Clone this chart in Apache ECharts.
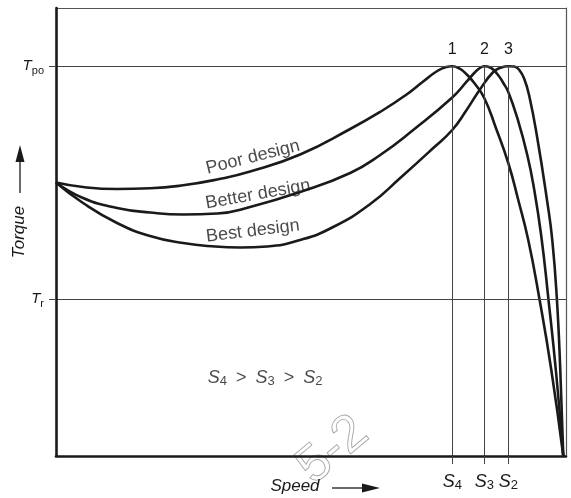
<!DOCTYPE html>
<html>
<head>
<meta charset="utf-8">
<script src="https://cdn.jsdelivr.net/npm/echarts@6/dist/echarts.min.js"></script>
<style>
  html, body { margin: 0; padding: 0; background: #fff; }
  #chart { width: 571px; height: 498px; }
</style>
</head>
<body>
<div id="chart"></div>
<script>
// Torque–speed characteristics for three motor designs (relative units, 0–100)
const poorDesign = [[0,61.05],[5.30,60.04],[11.97,59.60],[18.44,59.75],[24.92,60.42],[31.59,61.72],[38.06,63.50],[47.87,67.30],[57.68,72.99],[64.16,77.23],[68.47,80.47],[72.00,83.59],[74.75,85.94],[76.52,86.83],[77.7,87.0],[79.07,86.50],[80.44,85.27],[82.01,83.26],[83.97,79.91],[86.33,72.99],[88.68,65.40],[90.64,57.14],[92.60,48.21],[94.76,35.27],[97.12,19.20],[99.47,0]];
const betterDesign = [[0,61.05],[5.30,57.59],[11.97,55.36],[18.44,54.35],[24.92,53.91],[31.59,54.13],[38.06,55.58],[47.87,58.93],[57.68,63.17],[63.57,67.19],[70.04,72.77],[77.69,80.02],[80.64,83.71],[82.01,85.49],[82.99,86.50],[84.0,87.0],[85.15,86.72],[86.52,85.27],[87.70,83.26],[88.68,81.25],[90.45,75.45],[92.41,67.19],[93.78,59.38],[95.15,49.11],[96.53,35.27],[98.10,18.08],[99.47,0]];
const bestDesign = [[0,61.05],[5.30,56.47],[11.97,52.01],[18.44,49.11],[24.92,47.54],[31.19,46.76],[36.10,46.54],[41.40,46.76],[47.87,48.21],[54.35,51.12],[61.61,56.25],[67.49,62.05],[73.97,68.75],[77.69,72.77],[80.44,77.12],[83.19,81.92],[85.74,85.71],[87.31,86.72],[88.7,87.0],[89.86,86.94],[90.84,86.16],[91.82,84.15],[92.80,80.36],[94.37,70.98],[96.33,56.70],[97.31,48.21],[98.20,35.27],[98.88,19.20],[99.47,0]];

// Characteristic torque levels
const torqueLevels = [35, 87];              // T_r, T_po
const torqueSubscripts = ['r', 'po'];

// Speeds at which each design reaches pull-out torque
const speedMarks = [77.7, 84.0, 88.7];      // S4, S3, S2
const speedSubscripts = ['4', '3', '2'];
const peakNumbers = ['1', '2', '3'];

// Curve captions: [x, y, text, rotation]
const captions = [[38.6, 66.7, 'Poor design', 14], [39.6, 58.4, 'Better design', 10], [38.6, 50.2, 'Best design', 7]];
const noteAnchor = [41.0, 17.4];

const FONT = '"Liberation Sans", Arial, Helvetica, sans-serif';
const INK = '#1a1a1a';
const GUIDE = '#444';

const chart = echarts.init(document.getElementById('chart'));

const curve = (name, data) => ({
  name, type: 'line', data, smooth: 0.5, showSymbol: false, symbol: 'none', z: 4,
  lineStyle: { color: INK, width: 2.6 }, silent: true
});

const guideLines = [
  { yAxis: torqueLevels[0] },
  { yAxis: torqueLevels[1] }
].concat(speedMarks.map((s, i) => [
  { coord: [s, torqueLevels[1]], label: { show: true, position: 'start', formatter: peakNumbers[i], distance: 9,
      color: INK, fontSize: 16, fontFamily: FONT } },
  { coord: [s, 0] }
]));

// thin frame on the top and right edges of the plot
const frameAxis = pos => ({
  type: 'value', min: 0, max: 100, position: pos, show: true,
  axisLine: { show: true, onZero: false, lineStyle: { color: '#555', width: 1.2 } },
  axisTick: { show: false }, axisLabel: { show: false }, splitLine: { show: false }
});

chart.setOption({
  animation: false,
  textStyle: { fontFamily: FONT },
  grid: { left: 56, right: 5, top: 8, bottom: 42, outerBoundsMode: 'none', containLabel: false },
  xAxis: [{
    type: 'value', min: 0, max: 100, z: 6,
    splitLine: { show: false },
    axisLine: { show: true, lineStyle: { color: INK, width: 2.6 } },
    axisTick: { show: true, customValues: speedMarks, length: 8, lineStyle: { color: GUIDE, width: 1 } },
    axisLabel: {
      show: true, customValues: speedMarks, margin: 16,
      formatter: v => '{s|S}{sub|' + speedSubscripts[speedMarks.indexOf(v)] + '}',
      rich: {
        s: { fontSize: 18, fontStyle: 'italic', color: INK, fontFamily: FONT, lineHeight: 20 },
        sub: { fontSize: 13, color: INK, fontFamily: FONT, verticalAlign: 'bottom', lineHeight: 12 }
      }
    },
    name: 'Speed', nameLocation: 'middle', nameGap: 22, nameMoveOverlap: false,
    nameTextStyle: { fontSize: 17, fontStyle: 'italic', color: INK, fontFamily: FONT, padding: [0, 32, 0, 0] }
  }, frameAxis('top')],
  yAxis: [{
    type: 'value', min: 0, max: 100, z: 6,
    splitLine: { show: false },
    axisLine: { show: true, lineStyle: { color: INK, width: 2.6 } },
    axisTick: { show: true, customValues: torqueLevels, length: 7, lineStyle: { color: GUIDE, width: 1 } },
    axisLabel: {
      show: true, customValues: torqueLevels, margin: 12,
      formatter: v => '{t|T}{sub|' + torqueSubscripts[torqueLevels.indexOf(v)] + '}',
      rich: {
        t: { fontSize: 15, fontStyle: 'italic', color: INK, fontFamily: FONT, lineHeight: 20 },
        sub: { fontSize: 11, color: INK, fontFamily: FONT, verticalAlign: 'bottom', lineHeight: 12 }
      }
    },
    name: 'Torque', nameLocation: 'middle', nameGap: 28, nameRotate: 90, nameMoveOverlap: false,
    nameTextStyle: { fontSize: 17, fontStyle: 'italic', color: INK, fontFamily: FONT }
  }, frameAxis('right')],
  series: [
    {
      name: 'guides', type: 'line', data: [[0, torqueLevels[1]]], showSymbol: false, symbol: 'none',
      lineStyle: { width: 0 }, z: 2, silent: true,
      markLine: {
        silent: true, symbol: ['none', 'none'], animation: false,
        lineStyle: { color: GUIDE, width: 1, type: 'solid' },
        label: { show: false },
        data: guideLines
      }
    },
    curve('Poor design', poorDesign),
    curve('Better design', betterDesign),
    curve('Best design', bestDesign),
    {
      name: 'captions', type: 'scatter', symbolSize: 0, silent: true, z: 5,
      data: captions.map(c => ({
        value: [c[0], c[1]],
        label: { show: true, position: 'inside', formatter: c[2], rotate: c[3],
          fontSize: 18, color: INK, fontFamily: FONT }
      })).concat([{
        value: noteAnchor,
        label: { show: true, position: 'inside',
          formatter: '{s|S}{sub|4}{g|>}{s|S}{sub|3}{g|>}{s|S}{sub|2}',
          rich: {
            s: { fontSize: 18, fontStyle: 'italic', color: INK, fontFamily: FONT, lineHeight: 20 },
            sub: { fontSize: 13, color: INK, fontFamily: FONT, verticalAlign: 'bottom', lineHeight: 12 },
            g: { fontSize: 18, color: INK, fontFamily: FONT, lineHeight: 20, padding: [0, 9, 0, 9] }
          } }
      }])
    }
  ],
  graphic: [
    // axis direction arrows
    { type: 'line', shape: { x1: 20, y1: 193, x2: 20, y2: 160 }, style: { stroke: INK, lineWidth: 1.3 } },
    { type: 'polygon', shape: { points: [[20, 145], [15.5, 162], [24.5, 162]] }, style: { fill: INK } },
    { type: 'line', shape: { x1: 332, y1: 488, x2: 364, y2: 488 }, style: { stroke: INK, lineWidth: 1.3 } },
    { type: 'polygon', shape: { points: [[380, 488], [362, 483.5], [362, 492.5]] }, style: { fill: INK } },
    // stamp
    { type: 'text', x: 333, y: 450, rotation: 40 * Math.PI / 180, z: -1,
      style: { text: '5-2', font: '52px ' + FONT, fill: 'rgba(0,0,0,0)', stroke: '#a8a8a8', lineWidth: 0.9,
        textAlign: 'center', textVerticalAlign: 'middle' } }
  ]
});
</script>
</body>
</html>
